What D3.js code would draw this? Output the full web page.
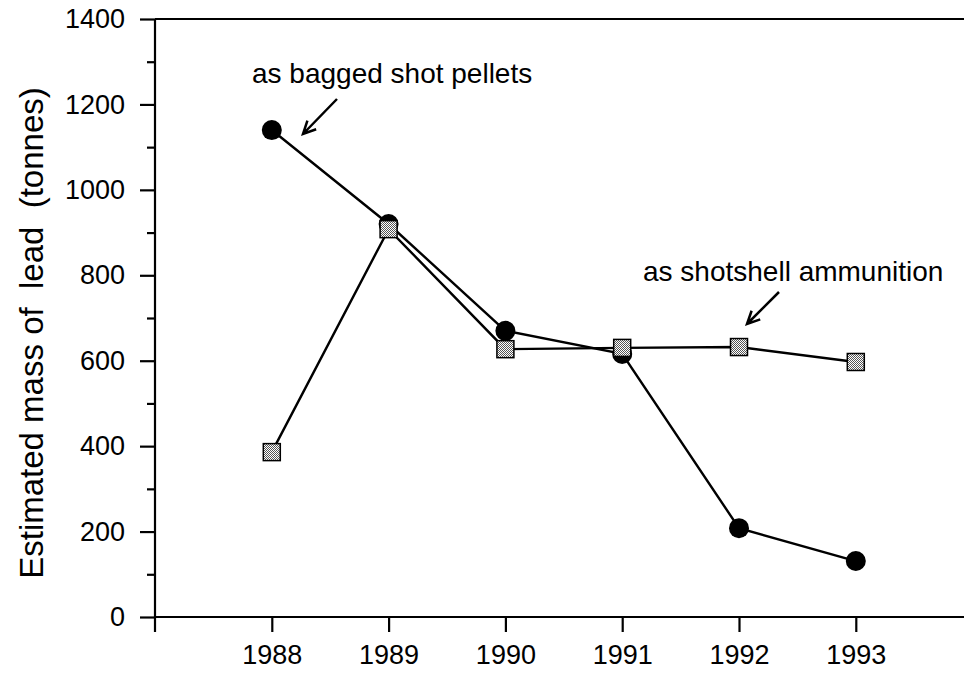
<!DOCTYPE html>
<html>
<head>
<meta charset="utf-8">
<script src="https://cdn.jsdelivr.net/npm/d3@7"></script>
<style>
  body { margin: 0; background: #fff; }
  svg { display: block; }
  svg text { font-family: "Liberation Sans", Arial, sans-serif; }
</style>
</head>
<body>
<svg width="964" height="676"></svg>
<script>
// data
let years = [1988, 1989, 1990, 1991, 1992, 1993];
let bagged = [1140, 920, 670, 616, 208, 131];       // as bagged shot pellets
let shotshell = [386, 908, 627, 630, 632, 597];     // as shotshell ammunition
let yMajor = [0, 200, 400, 600, 800, 1000, 1200, 1400];
let yMinor = [100, 300, 500, 700, 900, 1100, 1300];

let svg = d3.select("svg");
let plotLeft = 155, plotTop = 19, plotBottom = 617;

let x = d3.scaleLinear().domain([1987, 1994]).range([plotLeft, plotLeft + 7 * 116.8]);
let y = d3.scaleLinear().domain([0, 1400]).range([plotBottom, plotTop]);

// checkered fill for the squares
let defs = svg.append("defs");
let pat = defs.append("pattern")
  .attr("id", "checker")
  .attr("patternUnits", "userSpaceOnUse")
  .attr("width", 2).attr("height", 2);
pat.append("rect").attr("width", 2).attr("height", 2).attr("fill", "#fff");
pat.append("rect").attr("width", 1).attr("height", 1).attr("fill", "#555");
pat.append("rect").attr("x", 1).attr("y", 1).attr("width", 1).attr("height", 1).attr("fill", "#555");

// y axis, major ticks + labels
let yAxis = svg.append("g")
  .attr("transform", `translate(${plotLeft},0)`)
  .call(d3.axisLeft(y).tickValues(yMajor).tickSize(15).tickPadding(15).tickFormat(d3.format("d")));
yAxis.select(".domain").remove();
yAxis.selectAll("line").attr("stroke", "#000").attr("stroke-width", 2.2);
yAxis.selectAll("text").style("font-size", "27px").attr("fill", "#000");

// minor ticks
let yMinorAxis = svg.append("g")
  .attr("transform", `translate(${plotLeft},0)`)
  .call(d3.axisLeft(y).tickValues(yMinor).tickSize(8).tickFormat(""));
yMinorAxis.select(".domain").remove();
yMinorAxis.selectAll("line").attr("stroke", "#000").attr("stroke-width", 2.2);

// x axis
let xAxis = svg.append("g")
  .attr("transform", `translate(0,${plotBottom})`)
  .call(d3.axisBottom(x).tickValues(years).tickSize(15).tickPadding(13).tickFormat(d3.format("d")));
xAxis.select(".domain").remove();
xAxis.selectAll("line").attr("stroke", "#000").attr("stroke-width", 2.2);
xAxis.selectAll("text").style("font-size", "27px").attr("fill", "#000");

// frame lines
svg.append("line").attr("x1", plotLeft).attr("x2", plotLeft).attr("y1", plotTop).attr("y2", plotBottom + 15)
  .attr("stroke", "#000").attr("stroke-width", 2.2);
svg.append("line").attr("x1", plotLeft).attr("x2", 964).attr("y1", plotBottom).attr("y2", plotBottom)
  .attr("stroke", "#000").attr("stroke-width", 2.2);
svg.append("line").attr("x1", plotLeft).attr("x2", 964).attr("y1", plotTop).attr("y2", plotTop)
  .attr("stroke", "#000").attr("stroke-width", 2.2);

// y title
svg.append("text")
  .attr("transform", `translate(43,333) rotate(-90)`)
  .attr("text-anchor", "middle")
  .style("font-size", "33px")
  .style("white-space", "pre")
  .attr("fill", "#000")
  .text("Estimated mass of  lead  (tonnes)");

let line = d3.line().x((d, i) => x(years[i])).y(d => y(d));

svg.append("path").datum(shotshell).attr("d", line)
  .attr("fill", "none").attr("stroke", "#000").attr("stroke-width", 2.4);
svg.append("path").datum(bagged).attr("d", line)
  .attr("fill", "none").attr("stroke", "#000").attr("stroke-width", 2.4);

svg.selectAll(".circ").data(bagged).enter().append("circle")
  .attr("cx", (d, i) => x(years[i])).attr("cy", d => y(d)).attr("r", 10)
  .attr("fill", "#000");

svg.selectAll(".sq").data(shotshell).enter().append("rect")
  .attr("x", (d, i) => x(years[i]) - 8.5).attr("y", d => y(d) - 8.5)
  .attr("width", 17).attr("height", 17)
  .attr("fill", "url(#checker)").attr("stroke", "#000").attr("stroke-width", 1.5);

// annotations
function arrow(x1, y1, x2, y2) {
  let a = Math.atan2(y2 - y1, x2 - x1), h = 14, s = 0.45;
  let p = `M${x1},${y1}L${x2},${y2}` +
    `M${x2 - h * Math.cos(a - s)},${y2 - h * Math.sin(a - s)}L${x2},${y2}` +
    `L${x2 - h * Math.cos(a + s)},${y2 - h * Math.sin(a + s)}`;
  svg.append("path").attr("d", p).attr("fill", "none").attr("stroke", "#000").attr("stroke-width", 2.5);
}
svg.append("text").attr("x", 252).attr("y", 83).style("font-size", "28px").attr("fill", "#000")
  .text("as bagged shot pellets");
arrow(337, 99, 303, 134);
svg.append("text").attr("x", 643).attr("y", 281).style("font-size", "28px").attr("fill", "#000")
  .text("as shotshell ammunition");
arrow(779, 292, 747, 324);
</script>
</body>
</html>
